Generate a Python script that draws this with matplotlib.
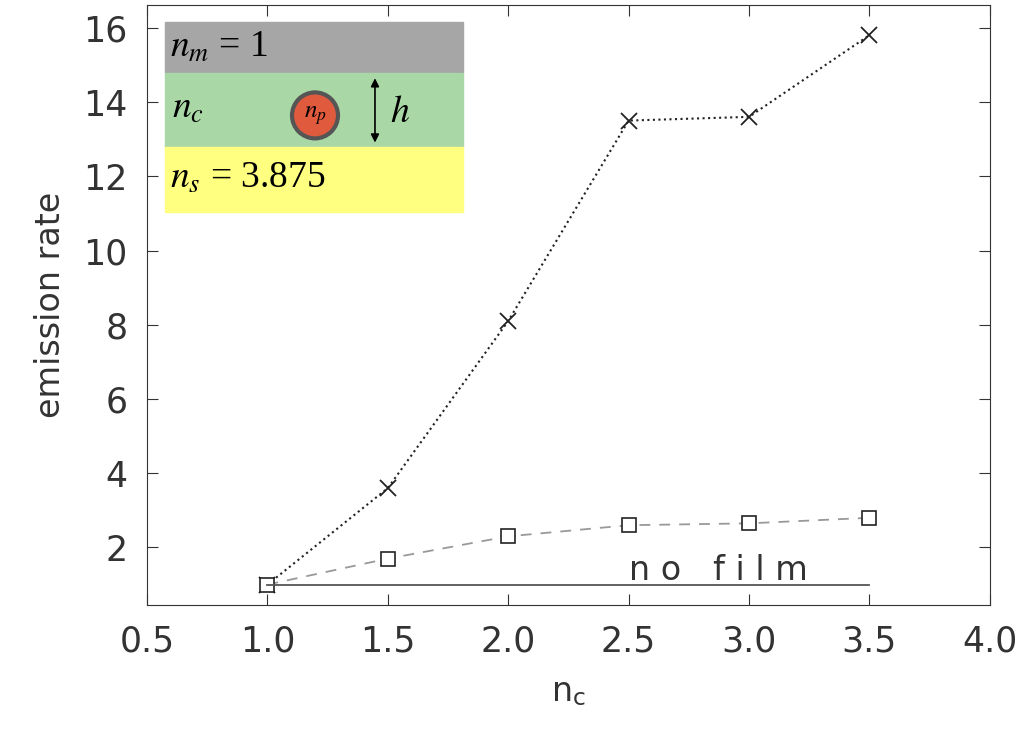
import matplotlib
matplotlib.use("Agg")
import matplotlib.pyplot as plt
from matplotlib.patches import Rectangle, Ellipse, FancyArrowPatch

plt.rcParams['mathtext.fontset'] = 'stix'

nc = [1.0, 1.5, 2.0, 2.5, 3.0, 3.5]
film_rate = [1.0, 3.6, 8.1, 13.5, 13.6, 15.8]
thin_rate = [1.0, 1.7, 2.3, 2.6, 2.65, 2.8]
nofilm_x = [1.0, 3.5]
nofilm_y = [1.0, 1.0]

fig = plt.figure(figsize=(10.24, 7.42), dpi=100)
ax = fig.add_axes([0.1436, 0.1846, 0.823, 0.808])
tc = '#333333'
ax.plot(nc, film_rate, ls=':', color='#222222', lw=1.5, marker='x', ms=11, mew=1.3)
ax.plot(nc, thin_rate, ls='--', dashes=(6, 5), color='#999999', lw=1.3, marker='s', ms=10,
        mfc='white', mec='#222222', mew=1.2)
ax.plot(nofilm_x, nofilm_y, color='#555555', lw=1.3)
ax.text(2.5, 1.12, 'n o   f i l m', fontsize=24, color=tc)
ax.set_xlim(0.5, 4.0)
ax.set_ylim(0.45, 16.6)
ax.set_xticks([0.5, 1.0, 1.5, 2.0, 2.5, 3.0, 3.5, 4.0])
ax.set_xticklabels(['0.5', '1.0', '1.5', '2.0', '2.5', '3.0', '3.5', '4.0'])
ax.set_yticks([2, 4, 6, 8, 10, 12, 14, 16])
ax.tick_params(which='both', direction='in', colors=tc, labelsize=25, top=True, right=True)
ax.tick_params(which='major', length=8, pad=14)
for s in ax.spines.values():
    s.set_color(tc)
ax.set_xlabel('n$_\\mathregular{c}$', fontsize=24, color=tc, labelpad=12)
ax.set_ylabel('emission rate', fontsize=24, color=tc, labelpad=12)

T = ax.transAxes
def ax_x(px): return (px - 147) / 843
def ax_y(py): return (605 - py) / 600
x0, x1 = ax_x(165), ax_x(463)
ax.add_patch(Rectangle((x0, ax_y(73)), x1 - x0, ax_y(22) - ax_y(73), transform=T, color='#a6a6a6', zorder=3))
ax.add_patch(Rectangle((x0, ax_y(147)), x1 - x0, ax_y(73) - ax_y(147), transform=T, color='#a9d8a6', zorder=3))
ax.add_patch(Rectangle((x0, ax_y(212)), x1 - x0, ax_y(147) - ax_y(212), transform=T, color='#ffff80', zorder=3))
ax.add_patch(Ellipse((ax_x(315), ax_y(115)), 46 / 843, 46 / 600, transform=T, fc='#e05a3e', ec='#555555', lw=3, zorder=4))
ax.add_patch(FancyArrowPatch((ax_x(375), ax_y(145)), (ax_x(375), ax_y(75)), transform=T,
                             arrowstyle='<|-|>', mutation_scale=12, color='black', lw=1.2, zorder=4))
f = dict(family='Liberation Serif', fontsize=27, color='black', zorder=5, transform=T, va='center')
ax.text(ax_x(170), ax_y(47), '$n_m$ = 1', **f)
ax.text(ax_x(172), ax_y(108), '$n_c$', **f)
ax.text(ax_x(390), ax_y(112), '$h$', **f)
ax.text(ax_x(170), ax_y(178), '$n_s$ = 3.875', **f)
ax.text(ax_x(315), ax_y(115), '$n_p$', family='Liberation Serif', fontsize=18, transform=T,
        ha='center', va='center', zorder=5)
fig.savefig('out.png', dpi=100)
